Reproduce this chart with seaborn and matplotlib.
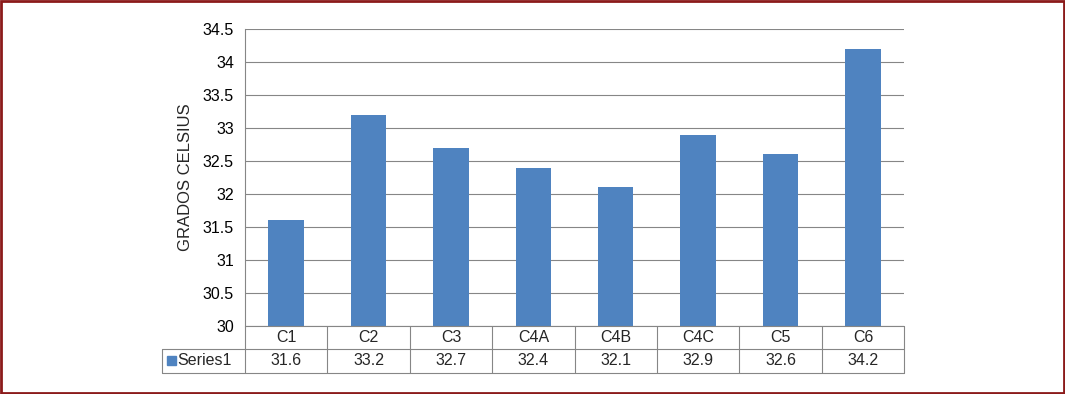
"""Bar chart of temperature per zone with an Excel-style data table underneath."""

import matplotlib.pyplot as plt
import matplotlib.transforms as mtransforms
import pandas as pd
import seaborn as sns
from matplotlib.patches import Rectangle

categories = ["C1", "C2", "C3", "C4A", "C4B", "C4C", "C5", "C6"]
values = [31.6, 33.2, 32.7, 32.4, 32.1, 32.9, 32.6, 34.2]
series_name = "Series1"
y_ticks = [30, 30.5, 31, 31.5, 32, 32.5, 33, 33.5, 34, 34.5]

BAR_COLOR = "#4F83C0"
GRID_COLOR = "#868686"
FS = 11.5

sns.set_theme(style="white")
plt.rcParams["font.family"] = ["Liberation Sans", "DejaVu Sans"]

df = pd.DataFrame({"zona": categories, "temp": values})

fig = plt.figure(figsize=(10.65, 3.94), dpi=100)
ax = fig.add_axes([0.230, 0.1726, 0.619, 0.7538])

sns.barplot(data=df, x="zona", y="temp", color=BAR_COLOR, width=0.43,
            saturation=1, linewidth=0, ax=ax)

ax.set_ylim(30, 34.5)
ax.set_xlim(-0.5, len(categories) - 0.5)
ax.set_yticks(y_ticks)
ax.set_yticklabels([f"{t:g}" for t in y_ticks])
ax.tick_params(axis="y", length=0, pad=8, labelsize=FS, colors="black")
ax.set_xticks([])
ax.set_xlabel("")
ax.set_ylabel("GRADOS CELSIUS", fontsize=12, labelpad=7)
ax.yaxis.grid(True, color=GRID_COLOR, linewidth=0.8)
ax.set_axisbelow(True)
for side in ["top", "right", "bottom"]:
    ax.spines[side].set_visible(False)
ax.spines["left"].set_color(GRID_COLOR)
ax.spines["left"].set_linewidth(0.8)

# data table below the plot area
trans = mtransforms.blended_transform_factory(ax.transData, ax.transAxes)
row_mid = -0.0774
table_bottom = -0.158
line_kw = dict(color=GRID_COLOR, linewidth=0.8, clip_on=False)

ax.plot([-0.5, len(categories) - 0.5], [0, 0], transform=trans, **line_kw)
for i in range(len(categories) + 1):
    ax.plot([i - 0.5, i - 0.5], [0, table_bottom], transform=trans, **line_kw)

# left header cell for the series label
left_edge = ax.transAxes.inverted().transform(fig.transFigure.transform((162 / 1065, 0)))[0]
ax.plot([left_edge, 0], [row_mid, row_mid], transform=ax.transAxes, **line_kw)
ax.plot([left_edge, 0], [table_bottom, table_bottom], transform=ax.transAxes, **line_kw)
ax.plot([left_edge, left_edge], [row_mid, table_bottom], transform=ax.transAxes, **line_kw)
ax.plot([0, 1], [row_mid, row_mid], transform=ax.transAxes, **line_kw)
ax.plot([0, 1], [table_bottom, table_bottom], transform=ax.transAxes, **line_kw)

for i, (cat, val) in enumerate(zip(categories, values)):
    ax.text(i, row_mid / 2, cat, transform=trans, ha="center", va="center", fontsize=FS)
    ax.text(i, (row_mid + table_bottom) / 2, f"{val:g}", transform=trans,
            ha="center", va="center", fontsize=FS)

sq_w = 9 / (0.619 * 1065)
sq_h = 9 / (0.7538 * 394)
sq_x = left_edge + 5 / (0.619 * 1065)
sq_y = (row_mid + table_bottom) / 2 - sq_h / 2
ax.add_patch(Rectangle((sq_x, sq_y), sq_w, sq_h, transform=ax.transAxes,
                       color=BAR_COLOR, clip_on=False))
ax.text(sq_x + sq_w + 0.002, (row_mid + table_bottom) / 2, series_name,
        transform=ax.transAxes, ha="left", va="center", fontsize=FS)

# dark red frame around the whole figure
fig.patches.append(Rectangle((0.001, 0.002), 0.998, 0.996, transform=fig.transFigure,
                             fill=False, edgecolor="#8B1A1A", linewidth=2))

fig.savefig("out.png", dpi=100)
